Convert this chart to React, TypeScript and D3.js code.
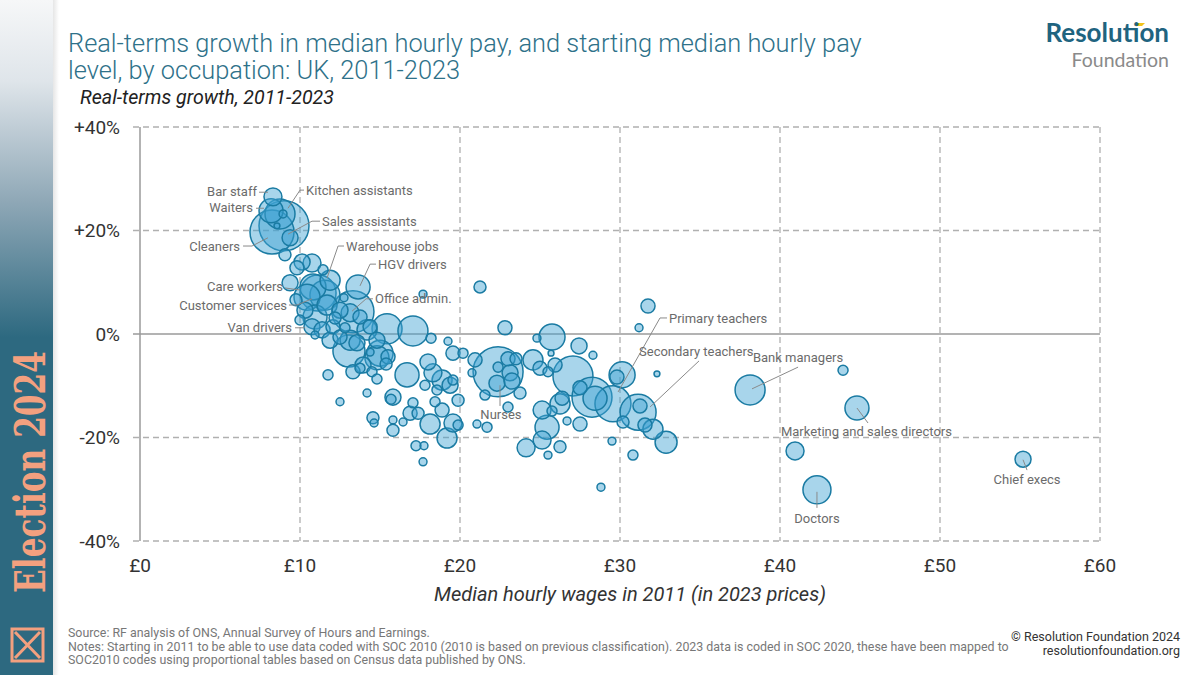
import React, { useEffect } from "react";
import * as d3 from "d3";

// ---------- DATA ----------
// Median hourly wage in 2011 (2023 prices, £)
const occWage: number[] = [
  8.31, 8.19, 8.75, 9.0, 8.25, 8.94, 9.38, 9.06, 8.56,
  10.13, 10.75, 9.81, 11.44, 11.88, 9.38, 11.13, 11.56, 10.81, 10.44, 13.63, 12.75, 13.31, 13.13, 13.75, 10.94,
  10.75, 11.38, 12.06, 12.5, 14.38, 15.44, 17.06, 14.81, 13.13, 11.88, 18.19, 19.25, 17.69, 21.25, 10.94,
  10.31, 10.0, 11.69, 12.5, 9.75, 12.19, 12.81,
  13.06, 13.56, 14.19, 13.75, 13.31, 13.94, 14.38, 14.5, 14.81, 14.81, 15.5, 15.0, 15.38, 16.69,
  18.0, 18.31, 18.88, 19.38, 19.56, 18.56, 17.81, 19.56, 20.19, 20.94, 20.75,
  11.75, 12.5, 14.19, 14.56, 14.63, 15.81, 15.69, 15.81, 15.81, 16.44, 17.06, 16.88, 17.38, 18.13, 18.44,
  18.88, 19.19, 19.56, 19.88, 19.88, 17.25, 17.75, 17.69, 21.06, 21.69,
  22.38, 22.38, 23.0, 23.5, 23.13, 22.31, 23.25, 23.75, 21.56, 23.0, 22.81,
  24.56, 25.0, 25.5, 25.94, 24.81, 25.75, 25.69, 27.44, 28.31, 31.75, 31.19, 32.31,
  27.06, 27.5, 28.25, 28.44, 29.56, 30.13, 29.81, 30.19, 31.13, 31.25, 31.56, 32.06, 32.88, 29.5, 30.81, 28.81,
  25.13, 26.25, 25.75, 26.38, 26.69, 27.5, 25.44, 25.13, 24.13, 25.5, 26.25,
  38.13, 43.94, 44.81, 40.94, 42.31, 55.19,
];
// Real-terms growth 2011-2023 (%)
const occGrowth: number[] = [
  26.5, 23.8, 23.2, 20.9, 19.7, 23.2, 18.6, 15.3, 20.9,
  13.9, 13.7, 12.8, 12.4, 10.4, 9.9, 7.9, 7.5, 9.1, 7.1, 9.1, 7.0, 4.3, 4.1, 3.3, 3.3,
  1.4, 0.8, 1.4, -0.6, 1.4, 1.0, 0.6, -1.2, -1.2, -1.2, -0.8, -1.4, 7.7, 9.1, -0.2,
  4.6, 2.7, 5.6, 4.6, 6.6, 3.1, 1.2,
  -3.3, -1.7, 0.8, -6.6, -7.3, -6.0, -3.5, -7.3, -8.7, -4.6, -4.4, -3.7, -5.8, -7.9,
  -5.4, -7.5, -8.9, -9.9, -8.9, -10.8, -9.9, -3.7, -3.7, -5.0, -7.5,
  -7.9, -13.1, -11.4, -16.2, -17.2, -12.2, -12.6, -16.6, -18.6, -17.0, -13.3, -15.3, -15.3, -17.4, -13.1,
  -14.7, -20.1, -17.2, -17.6, -12.8, -21.6, -21.6, -24.7, -17.4, -18.0,
  -7.3, -6.4, -4.8, -4.8, -7.5, -9.5, -9.1, -11.4, -11.8, -14.1, 1.2,
  -5.0, -6.6, -7.3, -6.0, -0.8, -0.6, -3.7, -2.3, -4.1, 5.4, 1.2, -7.7,
  -8.1, -10.4, -12.2, -12.4, -13.5, -7.9, -8.3, -17.0, -15.1, -13.9, -17.6, -18.4, -20.9, -20.7, -23.4, -29.6,
  -14.7, -13.5, -14.9, -12.4, -16.8, -17.4, -18.0, -20.5, -22.0, -23.4, -21.8,
  -10.8, -7.0, -14.3, -22.6, -30.1, -24.2,
];
// Employment (thousands) – bubble size
const occSize: number[] = [
  103, 184, 287, 797, 617, 20, 82, 46, 11,
  82, 103, 63, 32, 128, 82, 413, 287, 216, 216, 184, 20, 562, 103, 63, 184,
  82, 82, 63, 63, 63, 287, 287, 82, 128, 82, 32, 20, 20, 46, 20,
  82, 32, 128, 82, 46, 46, 32,
  327, 82, 128, 32, 63, 82, 20, 32, 32, 184, 63, 216, 46, 184,
  82, 103, 128, 82, 32, 32, 32, 63, 32, 63, 20,
  32, 20, 20, 46, 20, 82, 32, 20, 46, 20, 32, 63, 46, 128, 32,
  63, 128, 103, 32, 46, 32, 20, 20, 20, 32,
  797, 32, 63, 46, 82, 82, 82, 46, 32, 32, 63,
  128, 63, 32, 63, 20, 216, 11, 82, 20, 63, 20, 11,
  510, 63, 510, 184, 413, 216, 63, 46, 413, 63, 63, 128, 154, 20, 32, 20,
  103, 128, 32, 63, 20, 63, 184, 103, 103, 20, 46,
  287, 32, 184, 103, 250, 82,
];

// Annotations (data coordinates)
const labelText: string[] = [
  "Bar staff", "Waiters", "Kitchen assistants", "Sales assistants", "Cleaners",
  "Warehouse jobs", "HGV drivers", "Care workers", "Customer services", "Office admin.",
  "Van drivers", "Nurses", "Primary teachers", "Secondary teachers", "Bank managers",
  "Marketing and sales directors", "Doctors", "Chief execs",
];
const labelWage: number[] = [7.31, 7.06, 10.38, 11.38, 6.25, 12.88, 14.88, 8.94, 9.19, 14.69, 9.5, 22.56, 33.06, 31.19, 38.31, 40.06, 42.31, 55.44];
const labelGrowth: number[] = [27.6, 24.5, 27.8, 21.8, 17.0, 17.0, 13.5, 9.1, 5.6, 6.8, 1.2, -15.5, 3.1, -3.3, -4.6, -18.9, -35.7, -28.2];
const labelAnchor: string[] = ["end", "end", "start", "start", "end", "start", "start", "end", "end", "start", "end", "middle", "start", "start", "start", "start", "middle", "middle"];
const leaderLines: [number, number][][] = [
  [[7.44, 27.4], [8.0, 27.4]],
  [[7.25, 24.3], [7.75, 24.3]],
  [[10.25, 27.8], [10.0, 27.8], [9.25, 24.3]],
  [[11.25, 21.8], [10.75, 21.8], [9.25, 19.3]],
  [[6.44, 17.0], [7.0, 17.0], [8.0, 18.6]],
  [[12.75, 17.0], [12.38, 17.0], [11.69, 10.8]],
  [[14.75, 13.5], [14.38, 13.5], [13.75, 9.3]],
  [[9.06, 8.9], [10.0, 8.5]],
  [[9.31, 5.6], [9.81, 5.6], [10.75, 6.8]],
  [[14.56, 6.8], [14.13, 6.8], [13.25, 4.4]],
  [[9.69, 1.2], [10.31, 1.2]],
  [[22.5, -13.9], [22.5, -9.9]],
  [[32.94, 3.1], [32.5, 3.1], [29.88, -11.2]],
  [[34.94, -5.2], [31.88, -14.1]],
  [[41.13, -6.4], [38.25, -10.6]],
  [[45.5, -17.2], [44.81, -14.3]],
  [[42.31, -33.6], [42.31, -30.5]],
  [[55.44, -26.3], [55.19, -24.3]],
];

const xTicks: number[] = [0, 10, 20, 30, 40, 50, 60];
const yTicks: number[] = [-40, -20, 0, 20, 40];

const titleLines: string[] = [
  "Real-terms growth in median hourly pay, and starting median hourly pay",
  "level, by occupation: UK, 2011-2023",
];
const footLines: string[] = [
  "Source:  RF analysis of ONS, Annual Survey of Hours and Earnings.",
  "Notes: Starting in 2011 to be able to use data coded with SOC 2010 (2010 is based on previous classification). 2023 data is coded in SOC 2020, these have been mapped to",
  "SOC2010 codes using proportional tables based on Census data published by ONS.",
];

const FONT = "Roboto, 'Open Sans', sans-serif";

export default function App() {
  useEffect(() => {
    document.body.style.margin = "0";
  }, []);

  const x = d3.scaleLinear().domain([0, 60]).range([140, 1100]);
  const y = d3.scaleLinear().domain([-40, 40]).range([541, 127]);
  const r = d3.scaleSqrt().domain([0, 1000]).range([0, 28]);

  const points = occWage
    .map((w, i) => ({ w, g: occGrowth[i], s: occSize[i] }))
    .sort((a, b) => b.s - a.s);

  const line = d3
    .line<[number, number]>()
    .x((d) => x(d[0]))
    .y((d) => y(d[1]));

  const [x0, x1] = x.range();
  const [yBot, yTop] = y.range();

  return (
    <svg
      width={1200}
      height={675}
      style={{ position: "absolute", left: 0, top: 0, display: "block", background: "#fff" }}
      fontFamily={FONT}
    >
      <defs>
        <linearGradient id="side" x1="0" y1="0" x2="0" y2="1">
          <stop offset="0" stopColor="#f6f7f8" />
          <stop offset="0.12" stopColor="#dfe5ea" />
          <stop offset="0.3" stopColor="#8ea7b6" />
          <stop offset="0.5" stopColor="#2d6980" />
          <stop offset="1" stopColor="#2d6980" />
        </linearGradient>
        <linearGradient id="shade" x1="0" y1="0" x2="1" y2="0">
          <stop offset="0" stopColor="#e6e6e6" />
          <stop offset="1" stopColor="#ffffff" />
        </linearGradient>
      </defs>

      {/* Sidebar */}
      <rect x={0} y={0} width={53} height={675} fill="url(#side)" />
      <rect x={53} y={0} width={6} height={675} fill="url(#shade)" />
      <text
        transform="translate(45,593) rotate(-90)"
        fontFamily="'DejaVu Serif', serif"
        fontSize={42}
        fontWeight={700}
        fill="#f3a07f"
        textLength={242}
        lengthAdjust="spacingAndGlyphs"
      >
        Election 2024
      </text>
      <g stroke="#f3a07f" strokeWidth={3} fill="none">
        <rect x={12} y={629} width={31} height={32} />
        <path d="M15,632 L40,658 M15,658 L40,632" />
      </g>

      {/* Title */}
      {titleLines.map((t, i) => (
        <text key={t} x={68} y={52 + i * 27} fontSize={25.4} fill="#2e7189" fontWeight={300}>
          {t}
        </text>
      ))}
      <text x={80} y={104} fontSize={19.6} fontStyle="italic" fill="#222">
        Real-terms growth, 2011-2023
      </text>

      {/* Logo */}
      <path d="M1134,26 L1137,23 L1145,23 L1142,26 Z" fill="#f2c21b" />
      <text x={1169} y={42} textAnchor="end" fontSize={26} fontWeight={700} fill="#1f6480" fontFamily="Lato, Roboto, sans-serif">
        Resolution
      </text>
      <text x={1169} y={67} textAnchor="end" fontSize={19.5} fill="#8a8a8a" fontFamily="Lato, Roboto, sans-serif">
        Foundation
      </text>

      {/* Grid */}
      {yTicks.map((t) => (
        <line
          key={"gy" + t}
          x1={x0 - 7}
          x2={x1}
          y1={y(t)}
          y2={y(t)}
          stroke={t === 0 ? "#9a9a9a" : "#b0b0b0"}
          strokeWidth={t === 0 ? 1.5 : 1.3}
          strokeDasharray={t === 0 ? undefined : "6,4"}
        />
      ))}
      {xTicks.slice(1).map((t) => (
        <line
          key={"gx" + t}
          x1={x(t)}
          x2={x(t)}
          y1={yTop}
          y2={yBot}
          stroke="#b0b0b0"
          strokeWidth={1.3}
          strokeDasharray="6,4"
        />
      ))}
      <line x1={x0} x2={x0} y1={yTop} y2={yBot} stroke="#9a9a9a" strokeWidth={1.5} />

      {/* Tick labels */}
      {yTicks.map((t) => (
        <text key={"ty" + t} x={120} y={y(t)} dy="0.36em" textAnchor="end" fontSize={19} fill="#333">
          {(t > 0 ? "+" : "") + t + "%"}
        </text>
      ))}
      {xTicks.map((t) => (
        <text key={"tx" + t} x={x(t)} y={572} textAnchor="middle" fontSize={19} fill="#333">
          {"£" + t}
        </text>
      ))}
      <text x={630} y={601} textAnchor="middle" fontSize={20} fontStyle="italic" fill="#333">
        Median hourly wages in 2011 (in 2023 prices)
      </text>

      {/* Bubbles */}
      <g>
        {points.map((p, i) => (
          <circle
            key={i}
            cx={x(p.w)}
            cy={y(p.g)}
            r={r(p.s)}
            fill="#3fa2d2"
            fillOpacity={0.45}
            stroke="#1a7ba3"
            strokeWidth={1.5}
          />
        ))}
      </g>

      {/* Annotations */}
      {leaderLines.map((pts, i) => (
        <path key={"ll" + i} d={line(pts) || ""} fill="none" stroke="#8a8a8a" strokeWidth={1} />
      ))}
      {labelText.map((t, i) => (
        <text
          key={"lb" + i}
          x={x(labelWage[i])}
          y={y(labelGrowth[i])}
          dy="0.35em"
          textAnchor={labelAnchor[i] as any}
          fontSize={13}
          fill="#6b6b6b"
        >
          {t}
        </text>
      ))}

      {/* Footer */}
      {footLines.map((t, i) => (
        <text key={"f" + i} x={68} y={637 + i * 13.5} fontSize={12.4} fill="#777">
          {t}
        </text>
      ))}
      <text x={1180} y={641} textAnchor="end" fontSize={12.5} fill="#333">
        © Resolution Foundation 2024
      </text>
      <text x={1180} y={655} textAnchor="end" fontSize={12.5} fill="#333">
        resolutionfoundation.org
      </text>
    </svg>
  );
}
